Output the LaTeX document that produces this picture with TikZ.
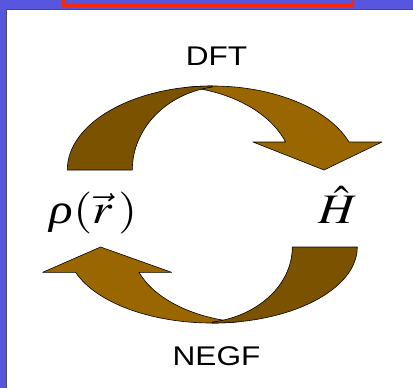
\documentclass[tikz,border=0pt]{standalone}
\usepackage{mathptmx}
\usepackage[no-math]{fontspec}
\setmainfont{Liberation Sans}
\newfontfamily\serifit{Liberation Serif}
\usepackage{graphicx}
\definecolor{bgblue}{RGB}{86,86,222}
\definecolor{framered}{RGB}{250,40,10}
\definecolor{darkband}{RGB}{122,82,0}
\definecolor{lightband}{RGB}{153,102,0}
\tikzset{
  band/.style={draw=black,line width=0.6pt,line join=round},
  sanslabel/.style={font=\fontsize{27}{30}\selectfont,anchor=base,inner sep=0pt},
  mathlabel/.style={font=\fontsize{42}{48}\selectfont,anchor=base,inner sep=0pt},
  cyclearrow/.pic={
    \path[band,fill=lightband] (100.85:145 and 84)
      arc[start angle=100.85,end angle=19.47,x radius=145,y radius=84]
      -- (169.7,28) -- (111.7,0) -- (40.7,28) -- (73.3,28)
      arc[start angle=19.47,end angle=80,x radius=125.5,y radius=84] -- cycle;
    \path[band,fill=darkband] (-145,0)
      arc[start angle=180,end angle=90,x radius=145,y radius=84]
      -- ($(15,0)+(99.08:95 and 84)$)
      arc[start angle=99.08,end angle=180,x radius=95,y radius=84] -- cycle;
  }
}
\usetikzlibrary{calc}
\begin{document}
\begin{tikzpicture}[x=1pt,y=1pt]
\useasboundingbox (0,0) rectangle (413,-388);
\clip (0,0) rectangle (413,-388);
\fill[bgblue] (0,0) rectangle (413,-388);
\fill[white] (6.5,-9.5) rectangle (413,-388);
\draw[gray!60!black,line width=0.8pt] (6.5,-388) -- (6.5,-9.5) -- (413,-9.5);
\draw[framered,line width=3.5pt] (64,10) rectangle (352.6,-5.2);
\pic (dftarrow) at (212.3,-170) {cyclearrow};
\pic[xscale=-1,yscale=-0.905] (negfarrow) at (212.3,-247) {cyclearrow};
\node[sanslabel] (dft) at (216.5,-65) {\scalebox{1.17}[1]{DFT}};
\node[sanslabel] (negf) at (216.5,-365) {\scalebox{1.17}[1]{NEGF}};
\node[mathlabel] (rho) at (93.5,-223) {\scalebox{1.17}[1]{{\serifit\itshape ρ}$(\vec{r}\,)$}};
\node[mathlabel] (ham) at (338,-223) {\scalebox{1.17}[1]{$\hat{H}$}};
\end{tikzpicture}
\end{document}
